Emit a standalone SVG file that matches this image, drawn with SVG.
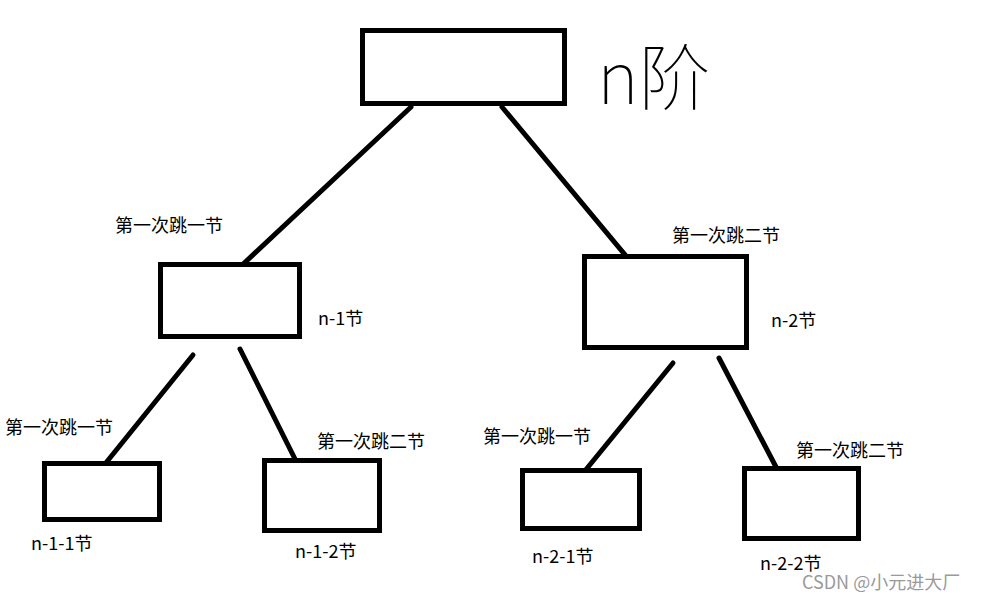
<svg xmlns="http://www.w3.org/2000/svg" width="986" height="596" viewBox="0 0 986 596">
<style>
.box{fill:#fff;stroke:#000;stroke-width:5}
.ln{stroke:#000;stroke-width:5;stroke-linecap:round;fill:none}
.t{font-family:"Noto Sans CJK SC","Microsoft YaHei",sans-serif;font-size:18px;fill:#000}
.hw{font-family:"Noto Sans CJK SC",sans-serif;font-size:72px;font-weight:100;fill:#000}
.wm{font-family:"Noto Sans CJK SC",sans-serif;font-size:18px;fill:#9a9a9a}
</style>
<rect width="986" height="596" fill="#fff"/>
<g id="connectors">
<line class="ln" x1="411" y1="107" x2="240" y2="267"/>
<line class="ln" x1="502" y1="107" x2="636" y2="268"/>
<line class="ln" x1="193" y1="355" x2="105" y2="464"/>
<line class="ln" x1="240" y1="349" x2="295" y2="459"/>
<line class="ln" x1="673" y1="363" x2="584" y2="472"/>
<line class="ln" x1="719" y1="358" x2="776" y2="467"/>
</g>
<g id="root">
<rect class="box" x="362.5" y="30.5" width="202" height="73"/>
<text class="hw" x="597" y="104">n阶</text>
</g>
<g id="n1">
<rect class="box" x="160.5" y="264.5" width="139" height="72"/>
<text class="t" x="115" y="232">第一次跳一节</text>
<text class="t" x="318" y="325">n-1节</text>
</g>
<g id="n2">
<rect class="box" x="584.5" y="256.5" width="162" height="91"/>
<text class="t" x="672" y="242">第一次跳二节</text>
<text class="t" x="771" y="327">n-2节</text>
</g>
<g id="n11">
<rect class="box" x="44.5" y="463.5" width="115" height="56"/>
<text class="t" x="5" y="434">第一次跳一节</text>
<text class="t" x="31" y="550">n-1-1节</text>
</g>
<g id="n12">
<rect class="box" x="264.5" y="460.5" width="115" height="70"/>
<text class="t" x="317" y="448">第一次跳二节</text>
<text class="t" x="295" y="558">n-1-2节</text>
</g>
<g id="n21">
<rect class="box" x="522.5" y="470.5" width="117" height="58"/>
<text class="t" x="483" y="443">第一次跳一节</text>
<text class="t" x="532" y="563">n-2-1节</text>
</g>
<g id="n22">
<rect class="box" x="744.5" y="468.5" width="114" height="70"/>
<text class="t" x="796" y="457">第一次跳二节</text>
<text class="t" x="760" y="570">n-2-2节</text>
</g>
<text class="wm" x="802" y="589">CSDN @小元进大厂</text>
</svg>
